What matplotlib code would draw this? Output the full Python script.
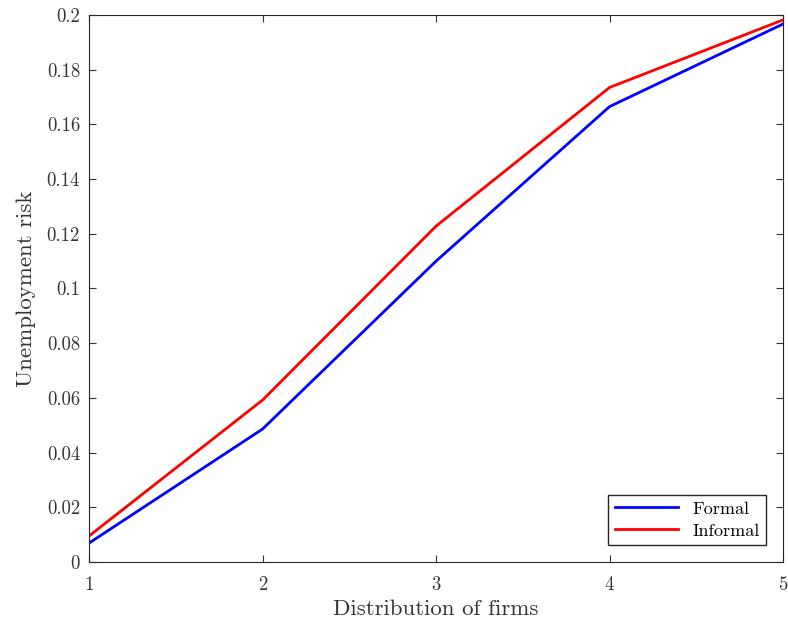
import matplotlib.pyplot as plt

firms = [1, 2, 3, 4, 5]
formal = [0.0069, 0.0486, 0.110, 0.1665, 0.1967]
informal = [0.0095, 0.0592, 0.1228, 0.1735, 0.1982]
yticks = [0, 0.02, 0.04, 0.06, 0.08, 0.1, 0.12, 0.14, 0.16, 0.18, 0.2]
ytick_labels = ["0", "0.02", "0.04", "0.06", "0.08", "0.1", "0.12", "0.14", "0.16", "0.18", "0.2"]

plt.rcParams['font.family'] = 'serif'
plt.rcParams['font.serif'] = ['cmr10', 'DejaVu Serif']
plt.rcParams['axes.formatter.use_mathtext'] = True

fig = plt.figure(figsize=(7.88, 6.24), dpi=100)
ax = fig.add_axes([0.113, 0.0994, 0.8807, 0.8766])

ax.plot(firms, formal, color="#0000ff", linewidth=2, label="Formal")
ax.plot(firms, informal, color="#ff0000", linewidth=2, label="Informal")

ax.set_xlim(1, 5)
ax.set_ylim(0, 0.2)
ax.set_xticks(firms)
ax.set_xticklabels([str(v) for v in firms])
ax.set_yticks(yticks)
ax.set_yticklabels(ytick_labels)
ax.tick_params(direction="in", top=True, right=True, labelsize=13.5,
               colors="#333333", length=5)
ax.tick_params(axis="x", pad=10)
ax.tick_params(axis="y", pad=6.5)
for s in ax.spines.values():
    s.set_color("#262626")

ax.set_xlabel("Distribution of firms", fontsize=16.5, color="#333333", labelpad=4)
ax.set_ylabel("Unemployment risk", fontsize=16.5, color="#333333", labelpad=8)

leg = ax.legend(loc="lower right", fontsize=13, fancybox=False, framealpha=1,
                edgecolor="#262626", borderaxespad=0.95, handlelength=3.5,
                borderpad=0.35, labelspacing=0.35)
leg.get_frame().set_linewidth(1)

fig.savefig("out.png", dpi=100)
